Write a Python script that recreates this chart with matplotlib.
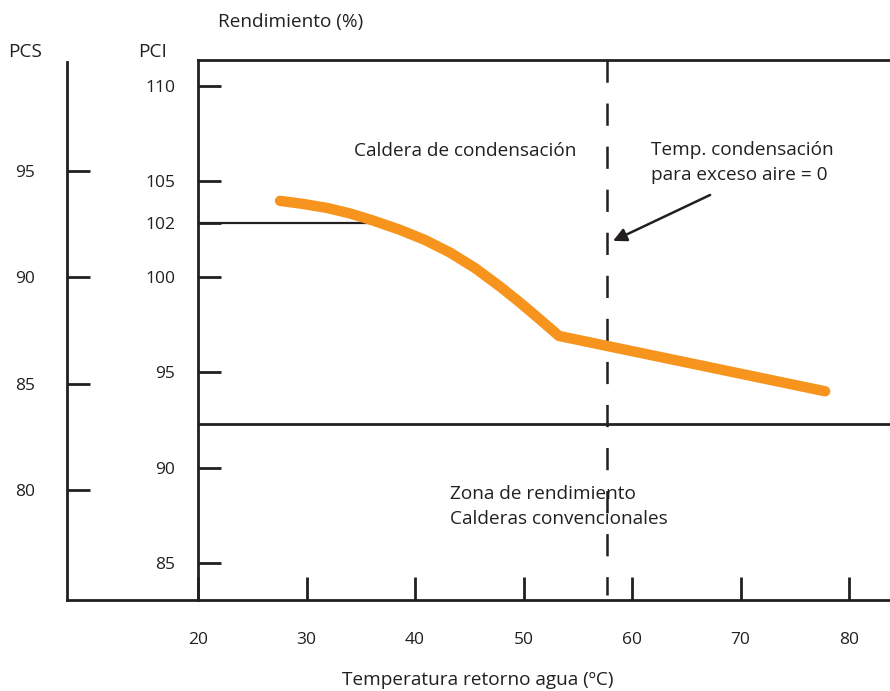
import matplotlib
matplotlib.use("Agg")
import matplotlib.pyplot as plt

plt.rcParams['font.family'] = ['Open Sans', 'DejaVu Sans']
plt.rcParams['lines.scale_dashes'] = False

# ---- data ----
temp = [27.56, 29.68, 31.89, 34.01, 36.13, 38.62, 40.92, 43.23, 45.53, 47.83, 49.68, 51.52, 53.27, 77.8]
pci_curve = [103.98, 103.82, 103.61, 103.32, 102.95, 102.46, 101.93, 101.27, 100.46, 99.49, 98.65, 97.76, 96.90, 94.0]
x_ticks = [20, 30, 40, 50, 60, 70, 80]
x_labels = ["20", "30", "40", "50", "60", "70", "80"]
pci_ticks = [110, 105, 102.8, 100, 95, 90, 85]
pci_labels = ["110", "105", "102", "100", "95", "90", "85"]
pcs_ticks = [95, 90, 85, 80]
pcs_labels = ["95", "90", "85", "80"]
ref_level = 102.8          # horizontal reference line (label "102")
ref_end = 36.1
conv_limit = 92.3          # limit of conventional boiler zone
cond_temp = 57.7           # condensation temperature (dashed line)

W, H = 890, 691
fig = plt.figure(figsize=(W / 100, H / 100), dpi=100)

def fx(px):
    return px / W

def fy(py):
    return 1 - py / H

tc = '#231f20'

# main axes (PCI)
ax = fig.add_axes([fx(198), fy(600), fx(890) - fx(198), fy(60) - fy(600)])
ax.set_xlim(20, 20 + 692 / 10.85)
ax.set_ylim(110 - 514 / 19.08, 110 + 26 / 19.08)
ax.spines['right'].set_visible(False)
for s in ['left', 'top', 'bottom']:
    ax.spines[s].set_linewidth(2.0)
    ax.spines[s].set_color(tc)
ax.set_xticks(x_ticks)
ax.set_xticklabels(x_labels)
ax.set_yticks(pci_ticks)
ax.set_yticklabels(pci_labels)
ax.tick_params(axis='x', direction='in', length=16.5, width=2.0, color=tc,
               pad=23, labelsize=12.5, labelcolor=tc)
ax.tick_params(axis='y', direction='in', length=16.5, width=2.0, color=tc,
               pad=16.5, labelsize=12.5, labelcolor=tc)
ax.patch.set_visible(False)

# PCS axes
ax2 = fig.add_axes([fx(67), fy(600), fx(198) - fx(67), fy(62) - fy(600)])
ax2.set_ylim(95 - 429 / 21.27, 95 + 109 / 21.27)
ax2.set_xlim(0, 1)
ax2.spines['right'].set_visible(False)
ax2.spines['top'].set_visible(False)
for s in ['left', 'bottom']:
    ax2.spines[s].set_linewidth(2.0)
    ax2.spines[s].set_color(tc)
ax2.set_xticks([])
ax2.set_yticks(pcs_ticks)
ax2.set_yticklabels(pcs_labels)
ax2.tick_params(axis='y', direction='in', length=16.5, width=2.0, color=tc,
                pad=23, labelsize=12.5, labelcolor=tc)
ax2.patch.set_visible(False)

# lines
ax.plot([20, ref_end], [ref_level, ref_level], color=tc, lw=1.6, zorder=2)
ax.axhline(conv_limit, color=tc, lw=2.0, zorder=2)
ax.plot([cond_temp, cond_temp], [ax.get_ylim()[1], 83.3], color=tc, lw=1.8,
        dashes=(16, 15), zorder=2)
ax.plot(temp, pci_curve, color='#f7941d', lw=7.5, solid_capstyle='round',
        solid_joinstyle='round', zorder=3)

# annotations
fs = 13.7
ax.text(34.4, 106.6, "Caldera de condensación", fontsize=fs, color=tc, va='center', ha='left')
ax.text(61.75, 106.65, "Temp. condensación", fontsize=fs, color=tc, va='center', ha='left')
ax.text(61.75, 105.34, "para exceso aire = 0", fontsize=fs, color=tc, va='center', ha='left')
ax.text(43.2, 88.62, "Zona de rendimiento", fontsize=fs, color=tc, va='center', ha='left')
ax.text(43.2, 87.31, "Calderas convencionales", fontsize=fs, color=tc, va='center', ha='left')
ax.annotate("", xy=(58.25, 101.88), xytext=(67.2, 104.29),
            arrowprops=dict(arrowstyle='-|>', color=tc, lw=1.8, mutation_scale=20,
                            shrinkA=0, shrinkB=0))

fig.text(fx(218), fy(22), "Rendimiento (%)", fontsize=fs, color=tc, va='center', ha='left')
fig.text(fx(8), fy(52), "PCS", fontsize=fs, color=tc, va='center', ha='left')
fig.text(fx(138), fy(52), "PCI", fontsize=fs, color=tc, va='center', ha='left')
fig.text(fx(478), fy(680), "Temperatura retorno agua (ºC)", fontsize=fs, color=tc,
         va='center', ha='center')

fig.savefig("out.png", dpi=100)
